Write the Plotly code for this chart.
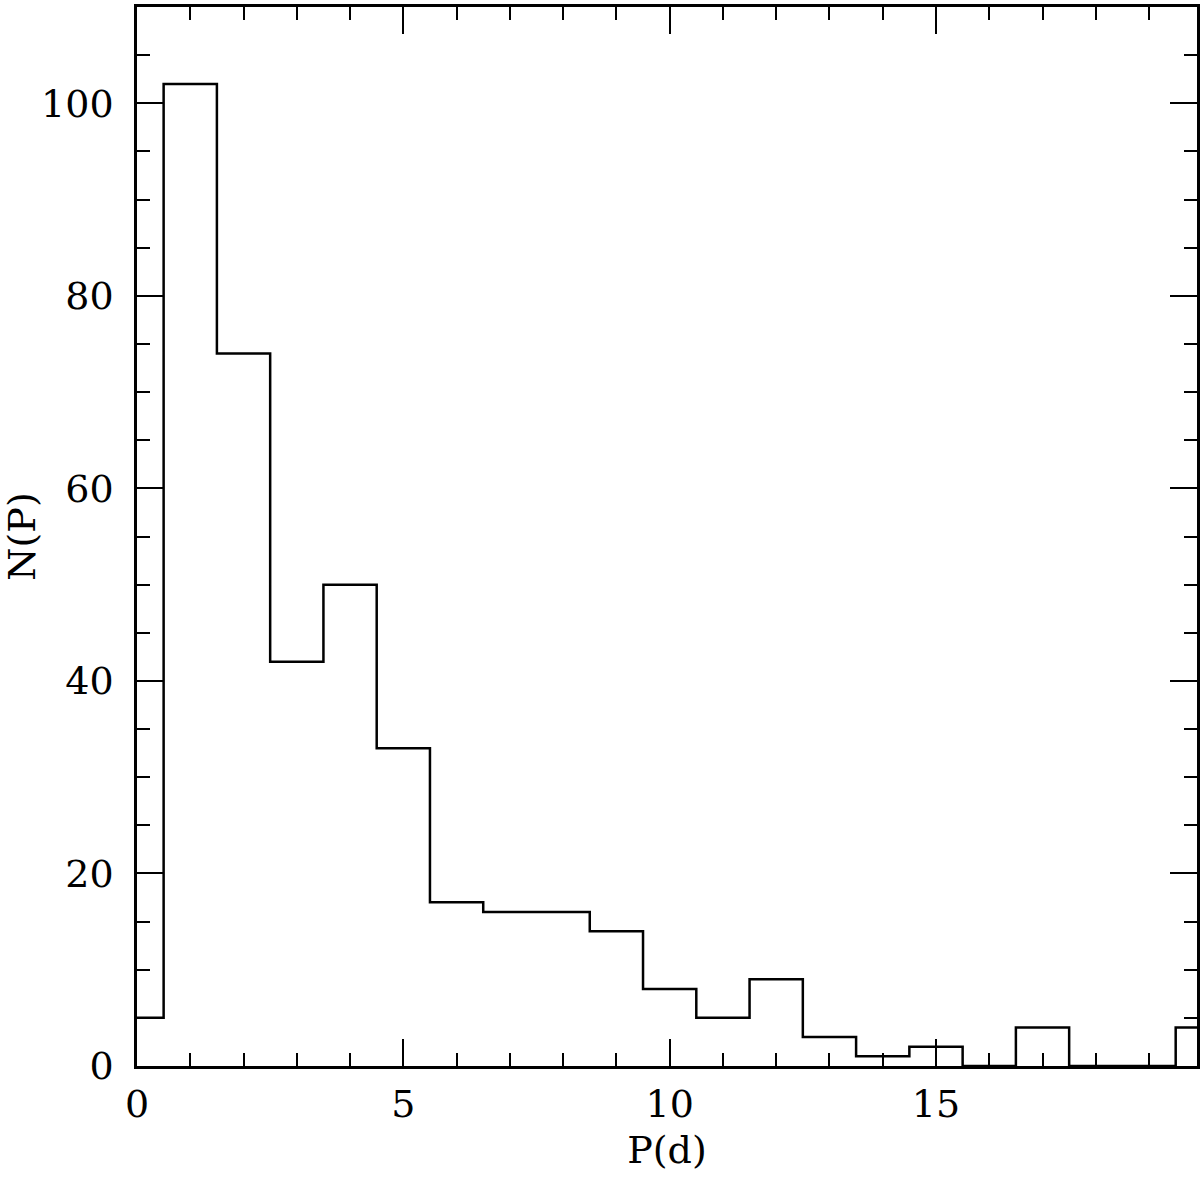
import plotly.graph_objects as go

bin_centers = [0, 1, 2, 3, 4, 5, 6, 7, 8, 9, 10, 11, 12, 13, 14, 15, 16, 17, 18, 19, 20]
counts = [5, 102, 74, 42, 50, 33, 17, 16, 16, 14, 8, 5, 9, 3, 1, 2, 0, 4, 0, 0, 4]
x_ticks = [0, 5, 10, 15]
y_ticks = [0, 20, 40, 60, 80, 100]

edges = [c - 0.5 for c in bin_centers] + [bin_centers[-1] + 0.5]
ys = counts + [counts[-1]]

fig = go.Figure()
fig.add_trace(go.Scatter(x=edges, y=ys, mode="lines", line_shape="hv",
                         line=dict(color="black", width=2.5), showlegend=False))

font = dict(family="DejaVu Serif, Liberation Serif, serif", size=38, color="black")
axis_common = dict(showgrid=False, zeroline=False, showline=True, linecolor="black", linewidth=2.5,
                   mirror="allticks", ticks="inside", ticklen=27, tickwidth=2, tickcolor="black",
                   tickfont=font, automargin=False)
fig.update_xaxes(range=[0, 19.9], tickvals=x_ticks, ticktext=[str(v) for v in x_ticks],
                 minor=dict(dtick=1, tick0=0, ticks="inside", ticklen=13, tickwidth=2, tickcolor="black"),
                 ticklabelstandoff=3,
                 title=dict(text="P(d)", font=font, standoff=12), **axis_common)
fig.update_yaxes(range=[0, 110], tickvals=y_ticks, ticktext=[str(v) for v in y_ticks],
                 minor=dict(dtick=5, tick0=0, ticks="inside", ticklen=13, tickwidth=2, tickcolor="black"),
                 ticklabelstandoff=13,
                 title=dict(text="N(P)", font=font, standoff=14), **axis_common)
fig.update_layout(width=1200, height=1185, margin=dict(l=137, r=3, t=7, b=119),
                  plot_bgcolor="white", paper_bgcolor="white")
fig.write_html("out.html", config={"displayModeBar": False},
               post_script="document.body.style.margin='0';document.body.style.overflow='hidden';")
